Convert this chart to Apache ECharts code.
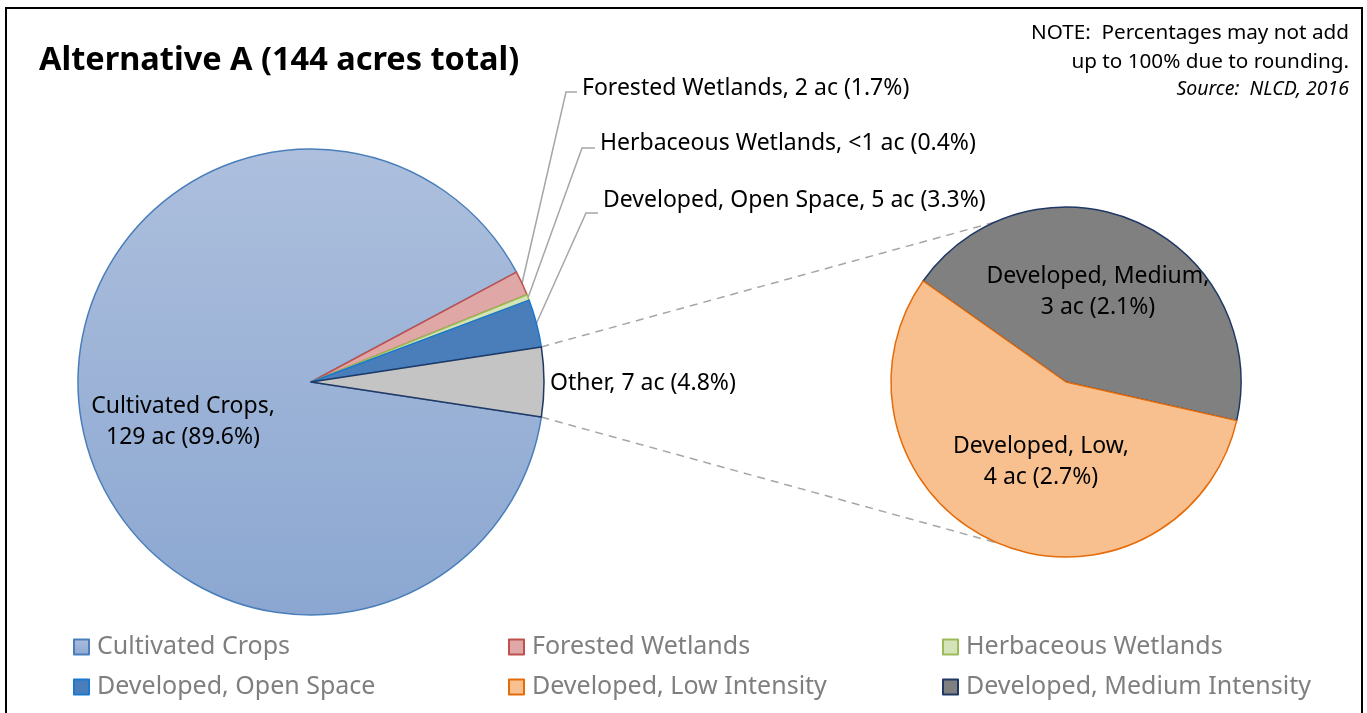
<!DOCTYPE html>
<html>
<head>
<meta charset="utf-8">
<title>Alternative A</title>
<script src="https://cdn.jsdelivr.net/npm/echarts@6/dist/echarts.min.js"></script>
<style>
    html, body { margin: 0; padding: 0; background: #fff; }
    #pie { width: 1367px; height: 713px; }
</style>
</head>
<body>
<div id="pie"></div>
<script>
// ---------------------------------------------- 数据
var mainNames = ['Cultivated Crops', 'Forested Wetlands', 'Herbaceous Wetlands', 'Developed, Open Space', 'Other'];
var mainPct = [89.6, 1.7, 0.4, 3.3, 4.8];
var mainAcres = ['129', '2', '<1', '5', '7'];

var subNames = ['Developed, Medium Intensity', 'Developed, Low Intensity'];
var subShort = ['Developed, Medium', 'Developed, Low'];
var subPct = [2.1, 2.7];
var subAcres = ['3', '4'];

// ---------------------------------------------- 样式 / 布局
var FONT = '"Noto Sans", "DejaVu Sans", sans-serif';
var mainFill = [
    { type: 'linear', x: 0, y: 0, x2: 0, y2: 1,
      colorStops: [{ offset: 0, color: '#adbfdd' }, { offset: 1, color: '#8ba7d1' }] },
    '#dfa7a6', '#d5e4b8', '#4a7ebb', '#c4c4c4'
];
var mainBorder = ['#4a7ebb', '#c0504d', '#9bbb59', '#1a78cf', '#1f3864'];
var subFill = ['#808080', '#f9c08f'];
var subBorder = ['#1f3864', '#e46c0a'];

var mainCenter = [311, 382], mainR = 233;
var subCenter = [1066, 382], subR = 175;

// 标签位置
var mainLabelPos = [[183, 422, 'center'], [582, 88, 'left'], [600, 143, 'left'], [603, 200, 'left'], [550, 383, 'left']];
var mainLineTail = { 1: [[566, 92], [577, 92]], 2: [[582, 148], [595, 148]], 3: [[586, 213], [598, 213]] };
var subLabelPos = [[1098, 292], [1041, 462]];

// "Other" 扇区居中于三点钟方向
var mainTotal = mainPct.reduce(function (a, b) { return a + b; }, 0);
var otherHalf = mainPct[4] / mainTotal * 180;
var mainStart = -otherHalf;
// 第二个饼图起始角
var subTotal = subPct[0] + subPct[1];
var subStart = 66 + subPct[0] / subTotal * 180;

function midAngle(i) {
    var cum = 0;
    for (var k = 0; k < i; k++) cum += mainPct[k];
    return (mainStart - (cum + mainPct[i] / 2) / mainTotal * 360) * Math.PI / 180;
}
function onCircle(c, r, deg) {
    var a = deg * Math.PI / 180;
    return [c[0] + r * Math.cos(a), c[1] - r * Math.sin(a)];
}

var mainData = mainNames.map(function (n, i) {
    var d = {
        name: n,
        value: mainPct[i],
        itemStyle: { color: mainFill[i], borderColor: mainBorder[i], borderWidth: 1.5 }
    };
    if (i === 0) {
        d.label = { position: 'inside' };
        d.labelLine = { show: false };
    }
    if (i === 4) {
        d.labelLine = { show: false };
    }
    return d;
});
var subData = subNames.map(function (n, i) {
    return {
        name: n,
        value: subPct[i],
        itemStyle: { color: subFill[i], borderColor: subBorder[i], borderWidth: 1.5 }
    };
});

var myChart = echarts.init(document.getElementById('pie'));

var legendBase = {
    orient: 'vertical',
    top: 629,
    icon: 'rect',
    itemWidth: 15,
    itemHeight: 15,
    itemGap: 14,
    selectedMode: false,
    textStyle: { fontFamily: FONT, fontSize: 25, color: '#7f7f7f', lineHeight: 26, padding: [0, 0, 0, 3] }
};
function legendCol(left, names) {
    return Object.assign({}, legendBase, { left: left, data: names });
}

// 连接两个饼图的虚线
var p1 = onCircle(mainCenter, mainR, otherHalf);
var p2 = onCircle(mainCenter, mainR, -otherHalf);
var q1 = onCircle(subCenter, subR, 114);
var q2 = onCircle(subCenter, subR, -113);
var dash = { stroke: '#a6a6a6', lineWidth: 1.5, lineDash: [8, 6] };

function noteText(y, text, size, italic) {
    return {
        type: 'text', x: 1349, y: y, silent: true,
        style: { text: text, fontFamily: FONT, fontSize: size, fontStyle: italic ? 'italic' : 'normal', fill: '#000',
                 align: 'right', verticalAlign: 'middle', textAlign: 'right', textVerticalAlign: 'middle' }
    };
}

var option = {
    animation: false,
    title: {
        text: 'Alternative A (144 acres total)',
        left: 39,
        top: 42,
        padding: 0,
        textStyle: { fontFamily: FONT, fontWeight: 'bold', fontSize: 32.5, color: '#000', lineHeight: 38 }
    },
    legend: [
        legendCol(68, [mainNames[0], mainNames[3]]),
        legendCol(503, [mainNames[1], subNames[1]]),
        legendCol(937, [mainNames[2], subNames[0]])
    ],
    graphic: [
        { type: 'rect', shape: { x: 6, y: 8, width: 1356, height: 740 },
          style: { fill: 'none', stroke: '#000', lineWidth: 2 }, silent: true },
        { type: 'line', shape: { x1: p1[0], y1: p1[1], x2: q1[0], y2: q1[1] }, style: dash, silent: true },
        { type: 'line', shape: { x1: p2[0], y1: p2[1], x2: q2[0], y2: q2[1] }, style: dash, silent: true },
        noteText(33, 'NOTE:  Percentages may not add', 20.7, false),
        noteText(62, 'up to 100% due to rounding.', 20.7, false),
        noteText(89, 'Source:  NLCD, 2016', 19.5, true)
    ],
    series: [{
        type: 'pie',
        center: mainCenter,
        radius: mainR,
        startAngle: mainStart,
        avoidLabelOverlap: false,
        emphasis: { disabled: true },
        label: {
            show: true,
            position: 'outside',
            fontFamily: FONT,
            fontSize: 23,
            lineHeight: 31,
            color: '#000',
            formatter: function (p) {
                var i = p.dataIndex;
                var sep = i === 0 ? ',\n' : ', ';
                return mainNames[i] + sep + mainAcres[i] + ' ac (' + mainPct[i].toFixed(1) + '%)';
            }
        },
        labelLine: { show: true, length: 10, length2: 10, lineStyle: { color: '#a6a6a6', width: 1.5 } },
        labelLayout: function (p) {
            var i = p.dataIndex;
            var pos = mainLabelPos[i];
            var res = { x: pos[0], y: pos[1], align: pos[2], verticalAlign: 'middle' };
            if (mainLineTail[i]) {
                var a = midAngle(i);
                var start = [mainCenter[0] + mainR * Math.cos(a), mainCenter[1] - mainR * Math.sin(a)];
                res.labelLinePoints = [start, mainLineTail[i][0], mainLineTail[i][1]];
            }
            return res;
        },
        data: mainData
    }, {
        type: 'pie',
        center: subCenter,
        radius: subR,
        startAngle: subStart,
        avoidLabelOverlap: false,
        emphasis: { disabled: true },
        label: {
            show: true,
            position: 'inside',
            fontFamily: FONT,
            fontSize: 23,
            lineHeight: 31,
            color: '#000',
            formatter: function (p) {
                var i = p.dataIndex;
                return subShort[i] + ',\n' + subAcres[i] + ' ac (' + subPct[i].toFixed(1) + '%)';
            }
        },
        labelLine: { show: false },
        labelLayout: function (p) {
            var pos = subLabelPos[p.dataIndex];
            return { x: pos[0], y: pos[1], align: 'center', verticalAlign: 'middle' };
        },
        data: subData
    }]
};
myChart.setOption(option);
</script>
</body>
</html>
